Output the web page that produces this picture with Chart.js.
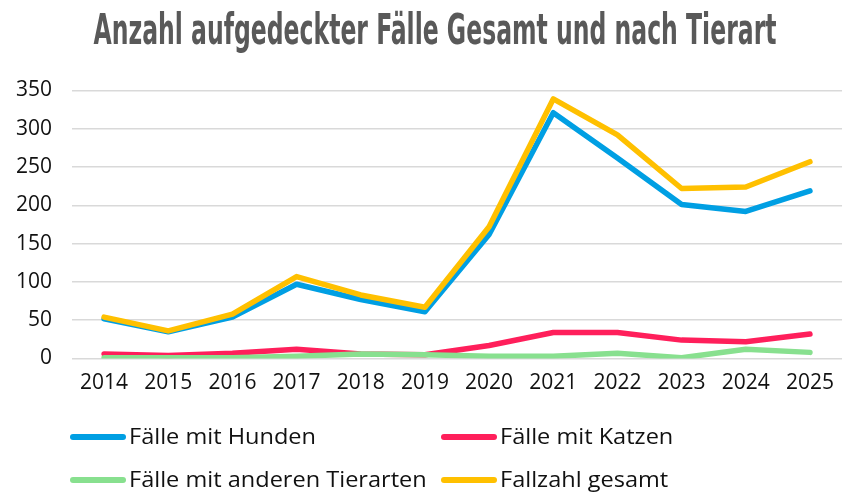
<!DOCTYPE html>
<html>
<head>
<meta charset="utf-8">
<script src="https://cdn.jsdelivr.net/npm/chart.js@4"></script>
<style>
html,body{margin:0;padding:0;background:#fff;}
#wrap{width:846px;height:494px;position:relative;}
</style>
</head>
<body>
<div id="wrap"><canvas id="c" width="846" height="494"></canvas></div>
<script>
const titleText = "Anzahl aufgedeckter Fälle Gesamt und nach Tierart";
const years = ["2014","2015","2016","2017","2018","2019","2020","2021","2022","2023","2024","2025"];
const seriesNames = ["Fälle mit Hunden","Fälle mit Katzen","Fälle mit anderen Tierarten","Fallzahl gesamt"];
const hunde  = [52, 35, 54, 97, 77, 61, 162, 321, 262, 201, 192, 219];
const katzen = [6, 4, 7, 12, 6, 5, 17, 34, 34, 24, 22, 32];
const andere = [1, 1, 1, 3, 6, 5, 3, 3, 7, 1, 12, 8];
const gesamt = [54, 36, 58, 107, 83, 67, 172, 339, 292, 222, 224, 257];
const colors = ["#009FE3","#FF1F5B","#88E08F","#FFC000"];
const yTicks = [0, 50, 100, 150, 200, 250, 300, 350];

const titlePlugin = {
  id: 'condTitle',
  afterDraw(chart){
    const ctx = chart.ctx;
    ctx.save();
    ctx.font = 'bold 42px "Liberation Sans Narrow", "DejaVu Sans Condensed", sans-serif';
    ctx.fillStyle = '#595959';
    ctx.textBaseline = 'alphabetic';
    ctx.textAlign = 'left';
    const w = ctx.measureText(titleText).width;
    const target = 683;
    ctx.translate(93.5, 44);
    ctx.scale(target / w, 1);
    ctx.fillText(titleText, 0, 0);
    ctx.restore();
  }
};

const legendPlugin = {
  id: 'gridLegend',
  afterDraw(chart){
    const ctx = chart.ctx;
    ctx.save();
    const cols = [70, 441];
    const rows = [437, 480];
    ctx.font = '22px "Open Sans", Roboto, sans-serif';
    ctx.textBaseline = 'middle';
    ctx.textAlign = 'left';
    const k = 187 / ctx.measureText(seriesNames[0]).width;
    chart.data.datasets.forEach((ds, i) => {
      const x = cols[i % 2];
      const y = rows[Math.floor(i / 2)];
      ctx.strokeStyle = ds.borderColor;
      ctx.lineWidth = 6;
      ctx.lineCap = 'round';
      ctx.beginPath();
      ctx.moveTo(x + 3, y);
      ctx.lineTo(x + 53, y);
      ctx.stroke();
      ctx.fillStyle = '#111';
      ctx.save();
      ctx.translate(x + 59, y + 1);
      ctx.scale(k, 1);
      ctx.fillText(ds.label, 0, 0);
      ctx.restore();
    });
    ctx.restore();
  }
};

const datasets = [hunde, katzen, andere, gesamt].map((d, i) => ({
  label: seriesNames[i],
  data: d,
  borderColor: colors[i],
  backgroundColor: colors[i],
  borderWidth: 5.5,
  pointRadius: 0,
  pointHoverRadius: 0,
  tension: 0,
  borderCapStyle: 'round',
  borderJoinStyle: 'round',
  fill: false,
  order: [3, 2, 1, 0][i]
}));

new Chart(document.getElementById('c'), {
  type: 'line',
  data: { labels: years, datasets: datasets },
  plugins: [titlePlugin, legendPlugin],
  options: {
    responsive: false,
    animation: false,
    events: [],
    layout: { padding: { top: 90.5, left: 0, right: 1, bottom: 95.5 } },
    plugins: {
      legend: { display: false },
      title: { display: false },
      tooltip: { enabled: false }
    },
    scales: {
      x: {
        offset: true,
        grid: { display: false, drawTicks: false },
        border: { display: false },
        ticks: {
          color: '#111',
          padding: 12,
          maxRotation: 0,
          autoSkip: false,
          font: { family: '"Open Sans", Roboto, sans-serif', size: 21 }
        },
        afterFit(s){ s.height = 40; }
      },
      y: {
        min: 0,
        max: 350,
        afterBuildTicks(s){ s.ticks = yTicks.map(v => ({ value: v })); },
        grid: { color: '#D9D9D9', lineWidth: 1.5, drawTicks: false },
        border: { display: false },
        ticks: {
          color: '#111',
          padding: 20,
          font: { family: '"Open Sans", Roboto, sans-serif', size: 21 }
        },
        afterFit(s){ s.width = 72; }
      }
    }
  }
});
</script>
</body>
</html>
